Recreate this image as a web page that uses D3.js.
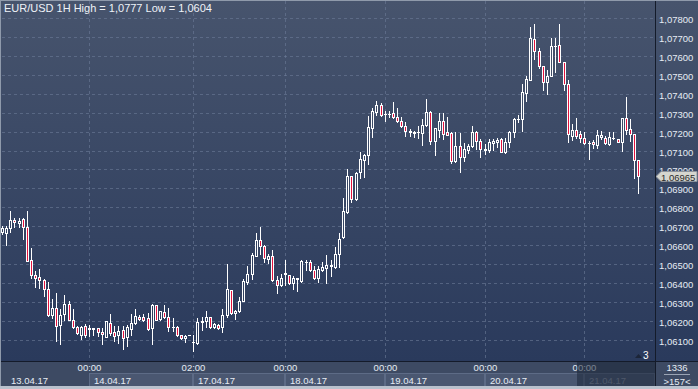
<!DOCTYPE html>
<html>
<head>
<meta charset="utf-8">
<script src="https://cdn.jsdelivr.net/npm/d3@7"></script>
<style>
  body { margin: 0; background: #2b3a57; }
  svg { display: block; font-family: "Liberation Sans", Arial, sans-serif; }
</style>
</head>
<body>
<div id="chart"></div>
<script>
// EUR/USD hourly candles
var openP = [1.06667,1.06662,1.06688,1.06733,1.06715,1.06738,1.06694,1.06520,1.06442,1.06430,
  1.06417,1.06369,1.06229,1.06265,1.06176,1.06233,1.06290,1.06206,1.06166,1.06127,
  1.06174,1.06158,1.06157,1.06162,1.06141,1.06114,1.06189,1.06141,1.06123,1.06153,
  1.06114,1.06157,1.06187,1.06222,1.06219,1.06215,1.06164,1.06283,1.06210,1.06247,
  1.06221,1.06167,1.06167,1.06125,1.06107,1.06125,1.06088,1.06082,1.06192,1.06197,
  1.06217,1.06166,1.06178,1.06167,1.06231,1.06361,1.06239,1.06253,1.06305,1.06405,
  1.06446,1.06540,1.06625,1.06596,1.06526,1.06540,1.06418,1.06391,1.06447,1.06444,
  1.06402,1.06424,1.06409,1.06511,1.06509,1.06467,1.06428,1.06470,1.06477,1.06488,
  1.06484,1.06551,1.06642,1.06775,1.06963,1.06846,1.06988,1.07051,1.07078,1.07218,
  1.07306,1.07342,1.07293,1.07296,1.07297,1.07276,1.07258,1.07228,1.07196,1.07191,
  1.07197,1.07191,1.07235,1.07306,1.07152,1.07211,1.07258,1.07196,1.07193,1.07046,
  1.07126,1.07064,1.07103,1.07122,1.07196,1.07152,1.07106,1.07103,1.07138,1.07143,
  1.07161,1.07094,1.07144,1.07197,1.07268,1.07268,1.07405,1.07471,1.07691,1.07626,
  1.07547,1.07465,1.07497,1.07654,1.07659,1.07568,1.07453,1.07178,1.07208,1.07187,
  1.07169,1.07142,1.07146,1.07130,1.07173,1.07169,1.07137,1.07166,1.07160,1.07146,
  1.07272,1.07213,1.07187,1.07050];
var highP = [1.06699,1.06703,1.06779,1.06743,1.06742,1.06742,1.06779,1.06587,1.06463,1.06472,
  1.06423,1.06407,1.06313,1.06348,1.06260,1.06336,1.06304,1.06260,1.06171,1.06174,
  1.06180,1.06176,1.06162,1.06162,1.06162,1.06196,1.06233,1.06171,1.06171,1.06171,
  1.06176,1.06233,1.06260,1.06229,1.06233,1.06242,1.06286,1.06283,1.06249,1.06281,
  1.06267,1.06215,1.06171,1.06127,1.06127,1.06127,1.06125,1.06215,1.06219,1.06251,
  1.06219,1.06189,1.06183,1.06260,1.06502,1.06365,1.06256,1.06326,1.06419,1.06489,
  1.06558,1.06663,1.06698,1.06598,1.06551,1.06572,1.06435,1.06446,1.06519,1.06444,
  1.06437,1.06425,1.06519,1.06523,1.06519,1.06488,1.06491,1.06511,1.06546,1.06519,
  1.06589,1.06663,1.06851,1.07002,1.06963,1.06988,1.07090,1.07081,1.07285,1.07326,
  1.07361,1.07352,1.07312,1.07312,1.07356,1.07324,1.07276,1.07250,1.07214,1.07205,
  1.07232,1.07267,1.07373,1.07310,1.07218,1.07297,1.07299,1.07276,1.07196,1.07196,
  1.07191,1.07138,1.07135,1.07232,1.07205,1.07161,1.07135,1.07161,1.07161,1.07165,
  1.07165,1.07165,1.07206,1.07271,1.07286,1.07453,1.07497,1.07753,1.07770,1.07642,
  1.07550,1.07524,1.07696,1.07696,1.07770,1.07571,1.07471,1.07240,1.07275,1.07204,
  1.07201,1.07151,1.07157,1.07208,1.07204,1.07178,1.07201,1.07196,1.07160,1.07272,
  1.07385,1.07266,1.07187,1.07050];
var lowP = [1.06658,1.06602,1.06667,1.06694,1.06694,1.06632,1.06516,1.06424,1.06380,1.06371,
  1.06330,1.06224,1.06215,1.06091,1.06079,1.06206,1.06203,1.06162,1.06132,1.06105,
  1.06114,1.06118,1.06127,1.06118,1.06079,1.06112,1.06127,1.06091,1.06082,1.06052,
  1.06065,1.06123,1.06185,1.06206,1.06197,1.06153,1.06079,1.06203,1.06206,1.06215,
  1.06144,1.06144,1.06121,1.06104,1.06089,1.06123,1.06040,1.06077,1.06153,1.06167,
  1.06162,1.06160,1.06157,1.06141,1.06221,1.06235,1.06207,1.06247,1.06304,1.06396,
  1.06423,1.06540,1.06551,1.06509,1.06505,1.06411,1.06344,1.06386,1.06388,1.06396,
  1.06370,1.06358,1.06405,1.06467,1.06461,1.06423,1.06405,1.06463,1.06400,1.06435,
  1.06481,1.06484,1.06639,1.06772,1.06828,1.06839,1.06954,1.06961,1.07028,1.07170,
  1.07288,1.07285,1.07258,1.07276,1.07273,1.07250,1.07223,1.07179,1.07179,1.07170,
  1.07166,1.07129,1.07228,1.07135,1.07078,1.07170,1.07161,1.07182,1.07037,1.07041,
  1.06989,1.07046,1.07087,1.07120,1.07108,1.07067,1.07081,1.07090,1.07104,1.07117,
  1.07090,1.07087,1.07118,1.07171,1.07250,1.07206,1.07365,1.07471,1.07585,1.07536,
  1.07418,1.07400,1.07494,1.07515,1.07568,1.07423,1.07148,1.07155,1.07169,1.07146,
  1.07137,1.07054,1.07116,1.07116,1.07164,1.07134,1.07130,1.07161,1.07146,1.07098,
  1.07187,1.07151,1.06957,1.06877];
var closeP = [1.06688,1.06688,1.06733,1.06720,1.06729,1.06694,1.06516,1.06440,1.06426,1.06417,
  1.06369,1.06229,1.06265,1.06171,1.06231,1.06290,1.06203,1.06167,1.06135,1.06167,
  1.06125,1.06160,1.06162,1.06141,1.06130,1.06196,1.06135,1.06118,1.06148,1.06109,
  1.06166,1.06189,1.06224,1.06208,1.06205,1.06158,1.06283,1.06206,1.06249,1.06221,
  1.06167,1.06166,1.06127,1.06107,1.06121,1.06125,1.06088,1.06194,1.06199,1.06217,
  1.06166,1.06180,1.06160,1.06231,1.06366,1.06239,1.06251,1.06304,1.06409,1.06449,
  1.06546,1.06628,1.06596,1.06533,1.06540,1.06414,1.06391,1.06425,1.06451,1.06400,
  1.06425,1.06423,1.06518,1.06512,1.06470,1.06426,1.06475,1.06486,1.06493,1.06493,
  1.06551,1.06633,1.06781,1.06963,1.06846,1.06984,1.07055,1.07076,1.07223,1.07312,
  1.07342,1.07290,1.07296,1.07295,1.07276,1.07258,1.07228,1.07205,1.07205,1.07200,
  1.07196,1.07235,1.07306,1.07152,1.07218,1.07258,1.07188,1.07184,1.07046,1.07126,
  1.07064,1.07108,1.07122,1.07196,1.07152,1.07108,1.07104,1.07143,1.07152,1.07156,
  1.07094,1.07147,1.07197,1.07268,1.07269,1.07409,1.07480,1.07695,1.07629,1.07550,
  1.07465,1.07497,1.07656,1.07652,1.07571,1.07453,1.07190,1.07208,1.07178,1.07169,
  1.07142,1.07141,1.07134,1.07181,1.07181,1.07139,1.07173,1.07165,1.07148,1.07272,
  1.07210,1.07187,1.07050,1.06965];

var dayStart = [21, 46, 68, 92, 116, 140];
var timeLabels = ["00:00", "02:00", "00:00", "00:00", "00:00", "00:00"];
var dayLabels = ["13.04.17", "14.04.17", "17.04.17", "18.04.17", "19.04.17", "20.04.17", "21.04.17"];
var priceTicks = [1.061, 1.062, 1.063, 1.064, 1.065, 1.066, 1.067, 1.068, 1.069,
  1.070, 1.071, 1.072, 1.073, 1.074, 1.075, 1.076, 1.077, 1.078];
var lastPrice = 1.06965;
var title = "EUR/USD 1H High = 1,0777 Low = 1,0604";
var barCount = "1336";
var visibleBars = ">157<";

var svgWidth = 698;
var svgHeight = 389;
var plot = {left: 1, right: 655, top: 1, bottom: 361};

var svg = d3.select("#chart").append("svg")
  .attr("width", svgWidth)
  .attr("height", svgHeight);

// background gradient shared by plot, price axis and hollow candle bodies
var defs = svg.append("defs");
var grad = defs.append("linearGradient")
  .attr("id", "bg")
  .attr("gradientUnits", "userSpaceOnUse")
  .attr("x1", 0).attr("y1", 0).attr("x2", 0).attr("y2", plot.bottom);
grad.append("stop").attr("offset", "0%").attr("stop-color", "#47546d");
grad.append("stop").attr("offset", "100%").attr("stop-color", "#2a3a5c");

svg.append("rect").attr("width", svgWidth).attr("height", plot.bottom).attr("fill", "url(#bg)");

// scales
var x = d3.scaleLinear().domain([0, 153]).range([1.94, 1.94 + 153 * 4.16]);
var y = d3.scaleLinear().domain([1.059868, 1.078915]).range([plot.bottom, plot.top]);
var fmt = function(v) { return v.toFixed(5).replace(".", ","); };

// grid
var grid = svg.append("g").attr("stroke", "#6c7c98").attr("stroke-opacity", 0.6)
  .attr("stroke-dasharray", "3,3");
grid.selectAll("line.h").data(priceTicks).enter().append("line")
  .attr("x1", plot.left + 1).attr("x2", plot.right)
  .attr("y1", d => Math.round(y(d)) + 0.5).attr("y2", d => Math.round(y(d)) + 0.5);
grid.selectAll("line.v").data(dayStart).enter().append("line")
  .attr("x1", d => Math.round(x(d)) + 0.5).attr("x2", d => Math.round(x(d)) + 0.5)
  .attr("y1", plot.top).attr("y2", plot.bottom);

// candles
var candles = d3.range(openP.length).map(i => ({
  i: i, o: openP[i], h: highP[i], l: lowP[i], c: closeP[i]
}));
var cg = svg.append("g").selectAll("g").data(candles).enter().append("g");
cg.append("line")
  .attr("x1", d => Math.round(x(d.i)) + 0.5).attr("x2", d => Math.round(x(d.i)) + 0.5)
  .attr("y1", d => Math.round(y(d.h))).attr("y2", d => Math.round(y(d.l)) + 1)
  .attr("stroke", "#ffffff").attr("stroke-width", 1);
cg.append("rect")
  .attr("x", d => Math.round(x(d.i)) - 0.5)
  .attr("y", d => Math.round(y(Math.max(d.o, d.c))) + 0.5)
  .attr("width", 2)
  .attr("height", d => Math.max(0.01, Math.round(y(Math.min(d.o, d.c))) - Math.round(y(Math.max(d.o, d.c)))))
  .attr("fill", d => d.c >= d.o ? "url(#bg)" : "#e3133e")
  .attr("stroke", "#ffffff").attr("stroke-width", 1);

// title
svg.append("text").attr("x", 4).attr("y", 12)
  .attr("fill", "#eef2f8").attr("font-size", 11).text(title);

// "3" marker at bottom right of the plot
svg.append("path").attr("d", "M635,358 L638.5,354 L642,358 Z").attr("fill", "#1c2538");
svg.append("text").attr("x", 643).attr("y", 359).attr("fill", "#ffffff")
  .attr("font-size", 10).text("3");

// price axis labels
svg.append("g").selectAll("text").data(priceTicks).enter().append("text")
  .attr("x", 659).attr("y", d => y(d) + 5)
  .attr("fill", "#e6ecf4").attr("font-size", 9.5)
  .text(fmt);

// last price marker
var ly = Math.round(y(lastPrice)) + 0.5;
svg.append("path")
  .attr("d", `M656,${ly} L661,${ly - 5} L697,${ly - 5} L697,${ly + 5} L661,${ly + 5} Z`)
  .attr("fill", "#d6d6cf").attr("stroke", "#8d939c").attr("stroke-width", 1);
svg.append("text").attr("x", 661).attr("y", ly + 4)
  .attr("fill", "#2a2a2a").attr("font-size", 9.5).text(fmt(lastPrice));

// time axis
svg.append("rect").attr("x", 0).attr("y", plot.bottom).attr("width", svgWidth)
  .attr("height", 386 - plot.bottom).attr("fill", "#3d4a63");
var bounds = [0].concat(dayStart.map(d => Math.round(x(d)))).concat([plot.right]);
var boxes = svg.append("g");
boxes.selectAll("rect").data(dayStart).enter().append("rect")
  .attr("x", (d, k) => bounds[k + 1] + 0.5).attr("y", 373.5)
  .attr("width", (d, k) => bounds[k + 2] - bounds[k + 1] - 1).attr("height", 13)
  .attr("fill", "#4a5771").attr("stroke", "#5d6b86");
svg.append("g").selectAll("text").data(dayLabels).enter().append("text")
  .attr("x", (d, k) => k === 0 ? 11 : bounds[k] + 5).attr("y", 383.5)
  .attr("fill", (d, k) => k === dayLabels.length - 1 ? "#8a93a6" : "#e6ecf4")
  .attr("font-size", 9.5).text(d => d);
svg.append("g").selectAll("text").data(timeLabels).enter().append("text")
  .attr("x", (d, k) => bounds[k + 1] + 0.5).attr("y", 371)
  .attr("text-anchor", "middle").attr("fill", "#e6ecf4")
  .attr("font-size", 9.5).text(d => d);
// shaded current session on the time axis
svg.append("rect").attr("x", 577).attr("y", plot.bottom + 1).attr("width", plot.right - 577)
  .attr("height", 386 - plot.bottom - 1).attr("fill", "#1b2639").attr("fill-opacity", 0.55);

// bar count panel
svg.append("rect").attr("x", plot.right + 1).attr("y", plot.bottom + 1)
  .attr("width", svgWidth - plot.right - 1).attr("height", 386 - plot.bottom - 1).attr("fill", "#3d4a63");
svg.append("text").attr("x", 677).attr("y", 371).attr("text-anchor", "middle")
  .attr("fill", "#e6ecf4").attr("font-size", 9.5).text(barCount);
svg.append("line").attr("x1", 664).attr("x2", 690).attr("y1", 374.5).attr("y2", 374.5)
  .attr("stroke", "#9aa4b4");
svg.append("text").attr("x", 677).attr("y", 384.5).attr("text-anchor", "middle")
  .attr("fill", "#e6ecf4").attr("font-size", 9.5).text(visibleBars);

// separators and outer frame
svg.append("line").attr("x1", plot.right + 0.5).attr("x2", plot.right + 0.5)
  .attr("y1", 0).attr("y2", 386).attr("stroke", "#141b2a");
svg.append("line").attr("x1", 0).attr("x2", svgWidth)
  .attr("y1", plot.bottom + 0.5).attr("y2", plot.bottom + 0.5).attr("stroke", "#141b2a");
svg.append("rect").attr("x", 0).attr("y", 386).attr("width", svgWidth).attr("height", 3)
  .attr("fill", "#b9c1cd");
svg.append("line").attr("x1", 0.5).attr("x2", 0.5).attr("y1", 0).attr("y2", 386)
  .attr("stroke", "#8f9aab");
svg.append("line").attr("x1", 0).attr("x2", svgWidth).attr("y1", 0.5).attr("y2", 0.5)
  .attr("stroke", "#8f9aab");
</script>
</body>
</html>
